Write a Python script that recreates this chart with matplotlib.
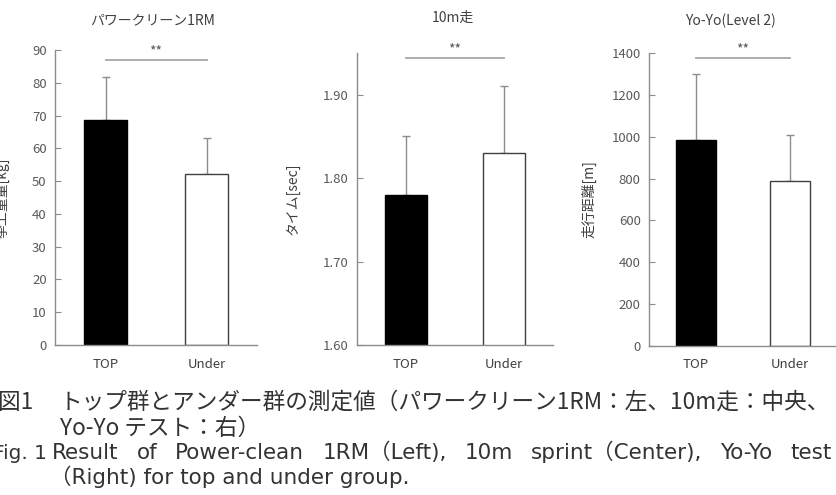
import matplotlib
matplotlib.use("Agg")
import matplotlib.pyplot as plt

plt.rcParams["font.family"] = ["Noto Sans CJK JP", "DejaVu Sans"]

groups = ["TOP", "Under"]

titles = ["パワークリーン1RM", "10m走", "Yo-Yo(Level 2)"]
ylabels = ["挙上重量[kg]", "タイム[sec]", "走行距離[m]"]

power_mean = [68.7, 52.3]
power_sd = [13.2, 10.7]
sprint_mean = [1.78, 1.83]
sprint_sd = [0.07, 0.08]
yoyo_mean = [982, 790]
yoyo_sd = [318, 220]

ylims = [(0, 90), (1.60, 1.95), (0, 1400)]
yticks = [
    [0, 10, 20, 30, 40, 50, 60, 70, 80, 90],
    [1.60, 1.70, 1.80, 1.90],
    [0, 200, 400, 600, 800, 1000, 1200, 1400],
]
ytick_fmt = ["{:.0f}", "{:.2f}", "{:.0f}"]

caption_heads = ["図1", "", "Fig. 1", ""]
caption = [
    "トップ群とアンダー群の測定値（パワークリーン1RM：左、10m走：中央、",
    "Yo-Yo テスト：右）",
    "Result of Power-clean 1RM（Left), 10m sprint（Center), Yo-Yo test",
    "（Right) for top and under group.",
]

W, H = 837, 495
fig = plt.figure(figsize=(W / 100, H / 100), dpi=100)

# axes boxes in pixels: left, right, top, bottom
boxes = [(55, 257, 50, 345), (357, 553, 53, 345), (649, 837, 53, 346)]
title_pos = [(153, 20), (453, 18), (730, 21)]
ylabel_x = [-0.223, -0.291, -0.277]
sig_y = [0.966, 0.983, 0.983]

grey = "#595959"
axis_grey = "#8c8c8c"

data = [(power_mean, power_sd), (sprint_mean, sprint_sd), (yoyo_mean, yoyo_sd)]

for i, (means, sds) in enumerate(data):
    l, r, t, b = boxes[i]
    ax = fig.add_axes([l / W, 1 - b / H, (r - l) / W, (b - t) / H])
    x = [0, 1]
    ax.bar(x, means, width=0.42, color=["black", "white"],
           edgecolor=["black", "#404040"], linewidth=1.0, zorder=2)
    ax.errorbar(x, means, yerr=[[0, 0], sds], fmt="none", ecolor=axis_grey,
                elinewidth=1.0, capsize=3, capthick=1.0, zorder=1)
    ax.set_xlim(-0.5, 1.5)
    ax.set_ylim(*ylims[i])
    ax.set_yticks(yticks[i])
    ax.set_yticklabels([ytick_fmt[i].format(v) for v in yticks[i]])
    ax.set_xticks(x)
    ax.set_xticklabels(groups)
    for s in ["top", "right"]:
        ax.spines[s].set_visible(False)
    for s in ["left", "bottom"]:
        ax.spines[s].set_color(axis_grey)
        ax.spines[s].set_linewidth(1.0)
    ax.tick_params(axis="y", direction="in", length=4, color=axis_grey,
                   labelcolor=grey, labelsize=9.5, pad=6)
    ax.tick_params(axis="x", length=0, labelcolor="#404040", labelsize=9.5, pad=9)
    ax.set_ylabel(ylabels[i], fontsize=10, color="#404040")
    ax.yaxis.set_label_coords(ylabel_x[i], 0.5)

    # significance bar
    tr = ax.get_xaxis_transform()
    ax.plot([0, 1], [sig_y[i], sig_y[i]], transform=tr,
            color="#a6a6a6", linewidth=1.3, clip_on=False)
    ax.annotate("**", (0.5, sig_y[i]), xycoords=tr, xytext=(0, 6),
                textcoords="offset points", ha="center", va="center",
                fontsize=10, color=grey)

    tx, ty = title_pos[i]
    fig.text(tx / W, 1 - ty / H, titles[i], ha="center", va="center",
             fontsize=10, color="#404040")

latin = ["DejaVu Sans", "Noto Sans CJK JP"]
cjk = ["Noto Sans CJK JP", "DejaVu Sans"]


def justified(txt, x0, x1, y, size, fam):
    # spread words of one caption line between x0 and x1 (pixels)
    renderer = fig.canvas.get_renderer()
    words = txt.split(" ")
    items = [fig.text(0, y, w, ha="left", va="baseline", fontsize=size,
                      family=fam, color="#333333") for w in words]
    widths = [it.get_window_extent(renderer).width for it in items]
    gap = (x1 - x0 - sum(widths)) / max(len(words) - 1, 1)
    pos = x0
    for it, w in zip(items, widths):
        it.set_x(pos / W)
        pos += w + gap


# baselines of the caption lines, pixels from top
cap_y = [409, 435, 459, 484]
cap_x0 = [60, 60, 52, 50]
cap_x1 = [None, None, 832, None]
cap_size = [16.3, 16.3, 15.5, 15.5]
cap_fam = [cjk, cjk, latin, latin]
head_x = [33, 0, 47, 0]
head_size = [16.3, 0, 14.5, 0]
for j, (head, txt) in enumerate(zip(caption_heads, caption)):
    y = 1 - cap_y[j] / H
    if head:
        fig.text(head_x[j] / W, y, head, ha="right", va="baseline",
                 fontsize=head_size[j], family=cap_fam[j], color="#333333")
    if cap_x1[j] is None:
        fig.text(cap_x0[j] / W, y, txt, ha="left", va="baseline",
                 fontsize=cap_size[j], family=cap_fam[j], color="#333333")
    else:
        justified(txt, cap_x0[j], cap_x1[j], y, cap_size[j], cap_fam[j])

fig.savefig("out.png", dpi=100)
